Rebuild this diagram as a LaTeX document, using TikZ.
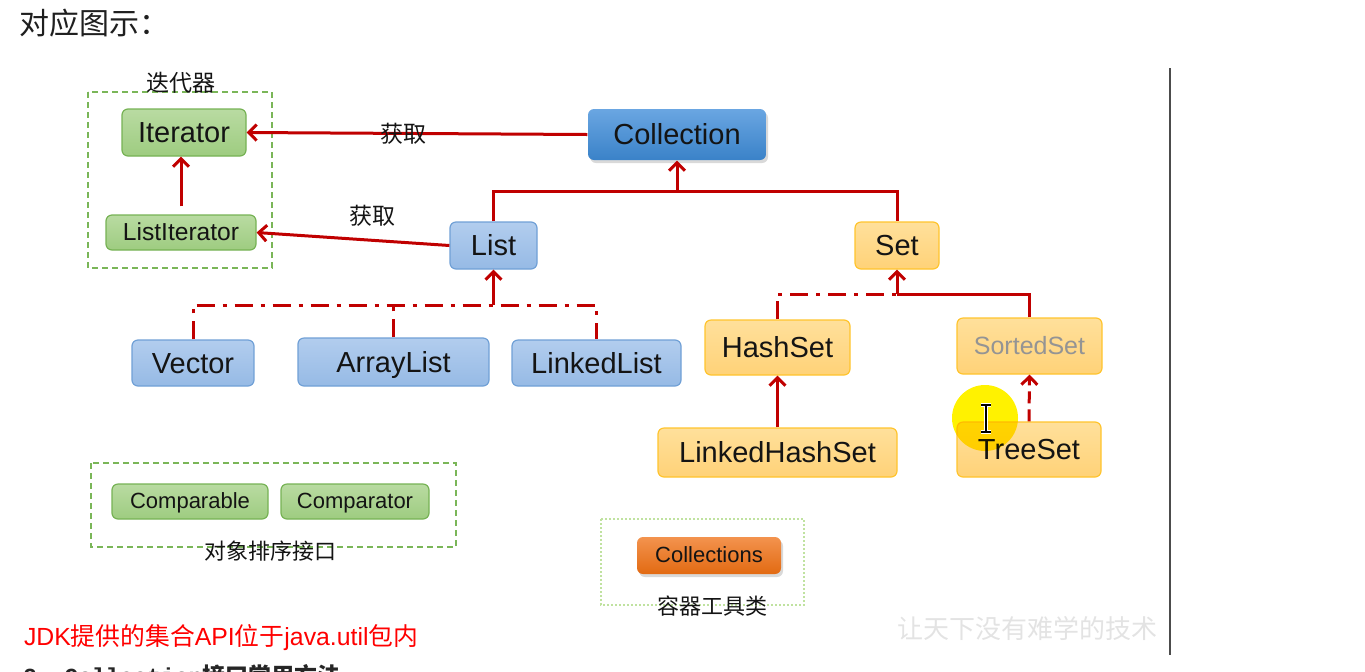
\documentclass[tikz,border=0pt]{standalone}
\usepackage{fontspec}
\setmainfont{Liberation Sans}
\setmonofont{Liberation Mono}
\newfontfamily\cjk{Noto Sans CJK SC}
\usetikzlibrary{arrows.meta,shadows}

\definecolor{lineRed}{RGB}{192,0,0}
\definecolor{grnTop}{RGB}{185,219,162}
\definecolor{grnBot}{RGB}{158,204,128}
\definecolor{grnLine}{RGB}{118,178,84}
\definecolor{bluTop}{RGB}{178,205,238}
\definecolor{bluBot}{RGB}{150,186,229}
\definecolor{bluLine}{RGB}{112,160,214}
\definecolor{orgTop}{RGB}{255,224,155}
\definecolor{orgBot}{RGB}{255,210,120}
\definecolor{orgLine}{RGB}{255,196,45}
\definecolor{collTop}{RGB}{106,166,226}
\definecolor{collBot}{RGB}{58,130,200}
\definecolor{toolTop}{RGB}{243,147,78}
\definecolor{toolBot}{RGB}{226,106,18}
\definecolor{grpGreen}{RGB}{122,182,88}
\definecolor{toolGreen}{RGB}{192,226,160}
\definecolor{txtDark}{RGB}{20,20,20}

\begin{document}
\begin{tikzpicture}[x=0.5pt,y=-0.5pt,
  box/.style={rounded corners=3pt, line width=0.6pt, inner sep=0pt, text=txtDark},
  sz/.style 2 args={minimum width=#1*0.5pt, minimum height=#2*0.5pt},
  bigtxt/.style={font=\fontsize{14.5}{17}\selectfont, text height=10.4pt, text depth=0pt},
  midtxt/.style={font=\fontsize{#1}{15}\selectfont, text height=0.716*#1pt, text depth=0.5pt},
  smalltxt/.style={font=\fontsize{11}{13}\selectfont, text height=7.9pt, text depth=0.5pt},
  greenbox/.style={box, top color=grnTop, bottom color=grnBot, draw=grnLine},
  bluebox/.style={box, top color=bluTop, bottom color=bluBot, draw=bluLine, bigtxt},
  orangebox/.style={box, top color=orgTop, bottom color=orgBot, draw=orgLine, bigtxt},
  cnlabel/.style={font=\cjk\fontsize{11.5}{14}\selectfont, text=txtDark},
  redline/.style={draw=lineRed, line width=1.5pt},
  tip/.style={-{Straight Barb[length=4pt,width=8pt]}},
  dashdot/.style={redline, dash pattern=on 9pt off 4pt on 2pt off 4pt},
  group/.style={draw=grpGreen, line width=0.6pt, dash pattern=on 3pt off 2pt}
]

% --- Page frame ---
\useasboundingbox (0,0) rectangle (1365,671);

% --- Title and side rule ---
\node[anchor=west, font=\cjk\fontsize{15}{17}\selectfont, text=black!88] (title) at (12,23) {对应图示：};
\draw[draw=black!70, line width=1pt] (1170,68) -- (1170,655);

% --- Group frames with their captions ---
\draw[group] (88,92) rectangle (272,268);
\node[cnlabel] (itcap) at (181,83) {迭代器};
\draw[group] (91,463) rectangle (456,547);
\node[cnlabel, font=\cjk\fontsize{11}{13}\selectfont] (sortcap) at (270,551) {对象排序接口};
\draw[draw=toolGreen, line width=0.6pt, dash pattern=on 1pt off 1pt] (601,519) rectangle (804,605);
\node[cnlabel, font=\cjk\fontsize{11}{13}\selectfont] (toolcap) at (712,606) {容器工具类};

% --- Interfaces and classes ---
\node[box, sz={178}{51}, top color=collTop, bottom color=collBot, draw=none, bigtxt,
      drop shadow={opacity=0.3, shadow xshift=1pt, shadow yshift=-1.5pt}] (collection) at (677,134.5) {Collection};
\node[greenbox, sz={124}{47}, bigtxt] (iterator) at (184,132.5) {Iterator};
\node[greenbox, sz={150}{35}, midtxt=12.3] (listit) at (181,232.5) {ListIterator};

\node[bluebox, sz={87}{47}] (list) at (493.5,245.5) {List};
\node[orangebox, sz={84}{47}] (set) at (897,245.5) {Set};

\node[bluebox, sz={122}{46}] (vector) at (193,363) {Vector};
\node[bluebox, sz={191}{48}] (arraylist) at (393.5,362) {ArrayList};
\node[bluebox, sz={169}{46}] (linkedlist) at (596.5,363) {LinkedList};

\node[orangebox, sz={145}{55}] (hashset) at (777.5,347.5) {HashSet};
\node[orangebox, sz={145}{56}, midtxt=12.5, text=black!42] (sortedset) at (1029.5,346) {SortedSet};
\node[orangebox, sz={239}{49}] (linkedhashset) at (777.5,452.5) {LinkedHashSet};
\node[orangebox, sz={144}{55}] (treeset) at (1029,449.5) {TreeSet};

\node[greenbox, sz={156}{35}, smalltxt] (comparable) at (190,501.5) {Comparable};
\node[greenbox, sz={148}{35}, smalltxt] (comparator) at (355,501.5) {Comparator};
\node[box, sz={144}{37}, top color=toolTop, bottom color=toolBot, draw=none, smalltxt,
      drop shadow={opacity=0.3, shadow xshift=1pt, shadow yshift=-1.5pt}] (collections) at (709,555.5) {Collections};

% --- "obtain" links ---
\draw[redline, tip] (collection.west) -- node[cnlabel, pos=0.54] {获取} (iterator.east);
\draw[redline, tip] (list.west) -- node[cnlabel, pos=0.4, anchor=south, yshift=3pt] {获取} (listit.east);
\draw[redline, tip, shorten <=4pt] (listit.north) -- (listit.north |- iterator.south);

% --- Inheritance tree ---
\coordinate (colljoin) at (677,191);
\coordinate (listjoin) at (493.5,305);
\coordinate (setjoin) at (897,294);

\draw[redline] (list.north) |- (colljoin) -| (set.north);
\draw[redline, tip] (colljoin) -- (collection.south);

\draw[dashdot] (vector.north) |- (linkedlist.north |- listjoin) -- (linkedlist.north);
\draw[dashdot] (arraylist.north) -- (arraylist.north |- listjoin);
\draw[redline, tip] (listjoin) -- (list.south);

\draw[dashdot] (hashset.north) |- (setjoin);
\draw[redline] (sortedset.north) |- (setjoin);
\draw[redline, tip] (setjoin) -- (set.south);

\draw[redline, tip] (linkedhashset.north) -- (hashset.south);
\draw[redline, tip, dash pattern=on 6pt off 3pt] (treeset.north) -- (sortedset.south);

% --- Pointer highlight ---
\fill[yellow, blend mode=multiply] (985,418) circle (33);
\draw[draw=white, line width=2.2pt] (986,405) -- (986,432) (981,405) -- (991,405) (981,432) -- (991,432);
\draw[draw=black, line width=1pt] (986,405) -- (986,432) (981,405) -- (991,405) (981,432) -- (991,432);

% --- Notes ---
\node[anchor=west, text=red, font=\fontsize{12.4}{15}\selectfont] (note) at (17,638)
  {JDK{\cjk 提供的集合}API{\cjk 位于}java.util{\cjk 包内}};
\node[anchor=base west, font=\ttfamily\bfseries\fontsize{11.5}{14}\selectfont, text=black!85] (nexthead) at (16,684)
  {2. Collection{\cjk 接口常用方法}};
\node[font=\cjk\fontsize{13}{15}\selectfont, text=black!11] (mark) at (1027,629) {让天下没有难学的技术};

\end{tikzpicture}
\end{document}
